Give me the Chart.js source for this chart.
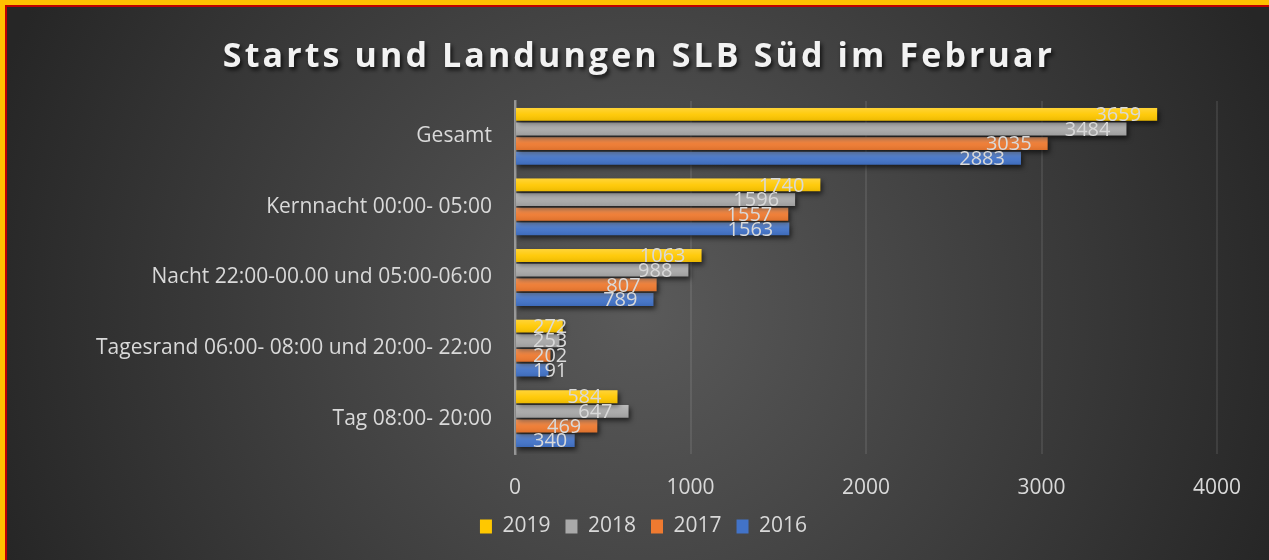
<!DOCTYPE html>
<html>
<head>
<meta charset="utf-8">
<script src="https://cdn.jsdelivr.net/npm/chart.js@4"></script>
<style>
  html, body { margin: 0; padding: 0; background: #FFC000; }
  #wrap { width: 1269px; height: 560px; }
</style>
</head>
<body>
<div id="wrap"><canvas id="flugChart"></canvas></div>
<script>
// Daten
const kategorien = [
    'Gesamt',
    'Kernnacht 00:00- 05:00',
    'Nacht 22:00-00.00 und 05:00-06:00',
    'Tagesrand 06:00- 08:00 und 20:00- 22:00',
    'Tag 08:00- 20:00'
];
const jahre = ['2019', '2018', '2017', '2016'];
const werte2019 = [3659, 1740, 1063, 272, 584];
const werte2018 = [3484, 1596, 988, 253, 647];
const werte2017 = [3035, 1557, 807, 202, 469];
const werte2016 = [2883, 1563, 789, 191, 340];
const xTicks = [0, 1000, 2000, 3000, 4000];
const titel = 'Starts und Landungen SLB Süd im Februar';

const farben = ['#FFC800', '#A9A9A9', '#EF7A30', '#4273C8'];
const schrift = "'Open Sans', 'Noto Sans', sans-serif";

// Hintergrund, Rahmen, Titel
const hintergrund = {
    id: 'hintergrund',
    beforeDraw(chart) {
        const ctx = chart.ctx;
        const w = chart.width, h = chart.height;
        ctx.save();
        ctx.fillStyle = '#FFC000';
        ctx.fillRect(0, 0, w, h);
        ctx.fillStyle = '#C00000';
        ctx.fillRect(5, 5, w - 5, h - 5);
        const g = ctx.createRadialGradient(640, 310, 0, 640, 310, 680);
        g.addColorStop(0, '#5a5a5a');
        g.addColorStop(1, '#262626');
        ctx.fillStyle = g;
        ctx.fillRect(7, 7, w - 7, h - 7);

        ctx.font = 'bold 34px ' + schrift;
        ctx.letterSpacing = '3.1px';
        ctx.textAlign = 'center';
        ctx.textBaseline = 'alphabetic';
        ctx.shadowColor = 'rgba(0,0,0,0.75)';
        ctx.shadowBlur = 4;
        ctx.shadowOffsetX = 2;
        ctx.shadowOffsetY = 3;
        ctx.fillStyle = '#f2f2f2';
        ctx.fillText(titel, 639, 67);
        ctx.restore();
    },
    beforeDatasetsDraw(chart) {
        const ctx = chart.ctx;
        ctx.save();
        ctx.shadowColor = 'rgba(0,0,0,0.6)';
        ctx.shadowBlur = 5;
        ctx.shadowOffsetX = 2;
        ctx.shadowOffsetY = 3;
    },
    afterDatasetsDraw(chart) {
        const ctx = chart.ctx;
        ctx.restore();
        // Glanz auf den Balken
        ctx.save();
        chart.data.datasets.forEach((ds, i) => {
            chart.getDatasetMeta(i).data.forEach(bar => {
                const p = bar.getProps(['x', 'y', 'base', 'height'], true);
                const top = p.y - p.height / 2;
                const g = ctx.createLinearGradient(0, top, 0, top + p.height);
                g.addColorStop(0, 'rgba(255,255,255,0.22)');
                g.addColorStop(0.5, 'rgba(255,255,255,0.05)');
                g.addColorStop(1, 'rgba(0,0,0,0.08)');
                ctx.fillStyle = g;
                ctx.fillRect(p.base, top, p.x - p.base, p.height);
            });
        });
        ctx.restore();
        // Datenbeschriftungen
        ctx.save();
        ctx.font = '20px ' + schrift;
        ctx.fillStyle = '#d9d9d9';
        ctx.textAlign = 'right';
        ctx.textBaseline = 'middle';
        chart.data.datasets.forEach((ds, i) => {
            chart.getDatasetMeta(i).data.forEach((bar, j) => {
                const p = bar.getProps(['x', 'y', 'base'], true);
                const txt = String(ds.data[j]);
                const tw = ctx.measureText(txt).width;
                const rechts = Math.max(p.x - 16, p.base + 17 + tw);
                ctx.fillText(txt, rechts, p.y + 1);
            });
        });
        ctx.restore();
    },
    afterLayout(chart) {
        // Legende etwas nach rechts wie im Original
        const lg = chart.legend;
        lg.left += 35;
        lg.right += 35;
    }
};

const reihen = [werte2019, werte2018, werte2017, werte2016];

new Chart(document.getElementById('flugChart'), {
    type: 'bar',
    data: {
        labels: kategorien,
        datasets: jahre.map((j, i) => ({
            label: j,
            data: reihen[i],
            backgroundColor: farben[i],
            borderWidth: 0,
            categoryPercentage: 0.83,
            barPercentage: 0.88
        }))
    },
    options: {
        indexAxis: 'y',
        responsive: true,
        maintainAspectRatio: false,
        animation: false,
        layout: { padding: { left: 0, right: 52, top: 101, bottom: 13 } },
        plugins: {
            title: { display: false },
            tooltip: { enabled: false },
            legend: {
                position: 'bottom',
                labels: {
                    color: '#d9d9d9',
                    font: { family: schrift, size: 21 },
                    boxWidth: 12,
                    boxHeight: 14,
                    padding: 15
                }
            }
        },
        scales: {
            x: {
                min: 0,
                max: 4000,
                afterFit(scale) { scale.height = 47; },
                afterBuildTicks(scale) { scale.ticks = xTicks.map(v => ({ value: v })); },
                grid: { color: 'rgba(255,255,255,0.09)', lineWidth: 2, drawTicks: false },
                border: { display: false },
                ticks: {
                    color: '#d9d9d9',
                    padding: 21,
                    font: { family: schrift, size: 21 },
                    callback: v => String(v)
                }
            },
            y: {
                afterFit(scale) { scale.width = 515; },
                grid: { display: false, drawTicks: false },
                border: { color: 'rgba(200,200,200,0.55)', width: 2.5 },
                ticks: {
                    color: '#d9d9d9',
                    padding: 23,
                    font: { family: schrift, size: 21 }
                }
            }
        }
    },
    plugins: [hintergrund]
});
</script>
</body>
</html>
